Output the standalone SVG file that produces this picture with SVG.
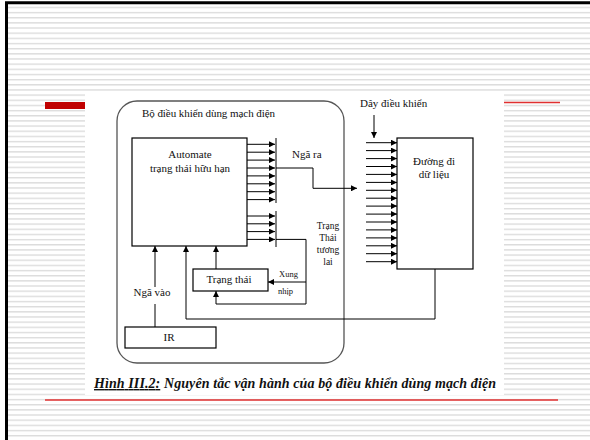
<svg xmlns="http://www.w3.org/2000/svg" width="590" height="440" viewBox="0 0 590 440">
<defs>
<pattern id="stripes" patternUnits="userSpaceOnUse" x="0" y="6.7" width="10" height="5.16">
<rect x="0" y="0" width="10" height="1.4" fill="#dcdcdc"/>
</pattern>
<marker id="ah" markerUnits="userSpaceOnUse" markerWidth="6" markerHeight="6" refX="6" refY="3" orient="auto">
<path d="M0,0 L6,3 L0,6 z" fill="#000"/>
</marker>
</defs>
<style>
.t{font-family:"Liberation Serif","Times New Roman",serif;fill:#111;font-size:11px}
.c{text-anchor:middle}
.box{fill:#fff;stroke:#000;stroke-width:1.2}
.ln{fill:none;stroke:#000;stroke-width:1}
.ar{fill:none;stroke:#000;stroke-width:1;marker-end:url(#ah)}
</style>
<rect x="0" y="0" width="590" height="440" fill="#fff"/>
<rect x="8" y="4" width="582" height="436" fill="url(#stripes)"/>
<path d="M6.5,440 V2.7 H590" fill="none" stroke="#000" stroke-width="3"/>
<rect x="45" y="102" width="42" height="7" fill="#c00000"/>
<line x1="500" y1="102.5" x2="560" y2="102.5" stroke="#e03030" stroke-width="1.3"/>
<line x1="45" y1="400" x2="558" y2="400" stroke="#e03030" stroke-width="1.3"/>
<rect x="85" y="91" width="419" height="304" fill="#fff"/>

<g id="controller">
<rect x="117" y="101" width="227" height="262" rx="20" ry="20" fill="none" stroke="#555" stroke-width="1.3"/>
<text class="t" x="142" y="117" textLength="133">Bộ điều khiển dùng mạch điện</text>
</g>
<g id="automate">
<rect class="box" x="132" y="138" width="115" height="108"/>
<text class="t c" x="190" y="158">Automate</text>
<text class="t c" x="190" y="172">trạng thái hữu hạn</text>
</g>
<g id="trangthai">
<rect class="box" x="193" y="269" width="75" height="22"/>
<text class="t c" x="229" y="283">Trạng thái</text>
</g>
<g id="ir">
<rect class="box" x="125" y="327" width="91" height="21"/>
<text class="t c" x="169" y="341">IR</text>
</g>
<g id="duongdi">
<rect class="box" x="397" y="138" width="76" height="131"/>
<text class="t c" x="434" y="165">Đường đi</text>
<text class="t c" x="434" y="178">dữ liệu</text>
</g>
<g id="labels">
<text class="t" x="292" y="158">Ngã ra</text>
<text class="t c" x="328" y="229" style="font-size:9.5px">Trạng</text>
<text class="t c" x="328" y="241" style="font-size:9.5px">Thái</text>
<text class="t c" x="328" y="253" style="font-size:9.5px">tương</text>
<text class="t c" x="328" y="265" style="font-size:9.5px">lai</text>
<text class="t" x="279" y="277" style="font-size:8.5px">Xung</text>
<text class="t" x="278" y="294" style="font-size:8.5px">nhịp</text>
<text class="t c" x="152" y="296">Ngã vào</text>
<text class="t" x="360" y="107">Dây điều khiển</text>
</g>
<g id="connectors">
<path class="ar" d="M247,144.3H275"/>
<path class="ar" d="M247,152.2H275"/>
<path class="ar" d="M247,160.1H275"/>
<path class="ar" d="M247,168H275"/>
<path class="ar" d="M247,175.9H275"/>
<path class="ar" d="M247,183.8H275"/>
<path class="ar" d="M247,191.7H275"/>
<path class="ar" d="M247,199.6H275"/>
<path class="ln" d="M276,138V203"/>
<path class="ar" d="M247,216H275"/>
<path class="ar" d="M247,223.8H275"/>
<path class="ar" d="M247,231.6H275"/>
<path class="ar" d="M247,239.4H275"/>
<path class="ln" d="M276,211V247"/>
<path class="ar" d="M276,168H313V188.3H357"/>
<path class="ar" d="M276,239.4H306V304H216V291"/>
<path class="ar" d="M306,282H268"/>
<path class="ar" d="M155,287V246"/>
<path class="ln" d="M155,304V327"/>
<path class="ar" d="M216,269V246"/>
<path class="ar" d="M435,269V319H186V246"/>
<path class="ar" d="M374,115V138"/>
<path class="ar" d="M366,142.7H397"/>
<path class="ar" d="M366,150.6H397"/>
<path class="ar" d="M366,158.6H397"/>
<path class="ar" d="M366,166.5H397"/>
<path class="ar" d="M366,174.4H397"/>
<path class="ar" d="M366,182.4H397"/>
<path class="ar" d="M366,190.3H397"/>
<path class="ar" d="M366,198.2H397"/>
<path class="ar" d="M366,206.1H397"/>
<path class="ar" d="M366,214.1H397"/>
<path class="ar" d="M366,222H397"/>
<path class="ar" d="M366,229.9H397"/>
<path class="ar" d="M366,237.9H397"/>
<path class="ar" d="M366,245.8H397"/>
<path class="ar" d="M366,253.7H397"/>
<path class="ar" d="M366,261.7H397"/>
</g>
<g id="caption">
<text x="94" y="388" textLength="402" style="font-family:'Liberation Serif','Times New Roman',serif;font-size:14px;font-weight:bold;font-style:italic;fill:#111"><tspan text-decoration="underline">Hình III.2:</tspan> Nguyên tắc vận hành của bộ điều khiển dùng mạch điện</text>
</g>
</svg>
